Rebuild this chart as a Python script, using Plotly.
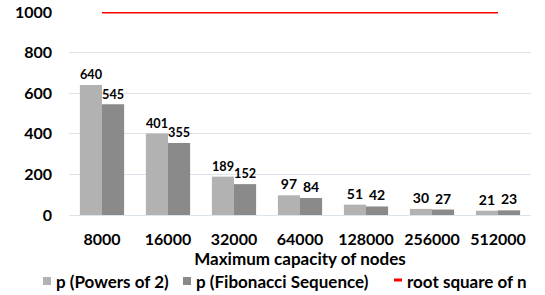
import plotly.graph_objects as go

categories = ["8000", "16000", "32000", "64000", "128000", "256000", "512000"]
powers_of_2 = [640, 401, 189, 97, 51, 30, 21]
fibonacci = [545, 355, 152, 84, 42, 27, 23]
root_square = [1000, 1000, 1000, 1000, 1000, 1000, 1000]
series_names = ["p (Powers of 2)", "p (Fibonacci Sequence)", "root square of n"]

FONT = "Lato"
LIGHT, DARK, RED = "#b2b2b2", "#8a8a8a", "#ff0000"
W, H = 545, 295
ML, MR, MT, MB = 69, 14, 12, 80
PW, PH = W - ML - MR, H - MT - MB


def px_x(p):  # screen pixel -> paper fraction
    return (p - ML) / PW


def px_y(p):
    return (H - MB - p) / PH


fig = go.Figure()
fig.add_trace(go.Bar(
    x=categories, y=powers_of_2, name=series_names[0],
    marker=dict(color=LIGHT, line=dict(width=0)),
    text=powers_of_2, textposition="outside", cliponaxis=False,
    textfont=dict(family=FONT, size=14, color="#000000", weight="bold"),
))
fig.add_trace(go.Bar(
    x=categories, y=fibonacci, name=series_names[1],
    marker=dict(color=DARK, line=dict(width=0)),
    text=fibonacci, textposition="outside", cliponaxis=False,
    textfont=dict(family=FONT, size=14, color="#000000", weight="bold"),
))
fig.add_trace(go.Scatter(
    x=categories, y=root_square, name=series_names[2], mode="lines",
    line=dict(color=RED, width=3), cliponaxis=False,
))

# manual legend (small squares / short dash like the reference)
legend_y = 281
items = [(43, 8, LIGHT, "rect"), (183, 8, DARK, "rect"), (394, 8, RED, "line")]
shapes, annotations = [], []
for (x0, w, col, kind), name in zip(items, series_names):
    if kind == "rect":
        shapes.append(dict(type="rect", xref="paper", yref="paper",
                           x0=px_x(x0), x1=px_x(x0 + w),
                           y0=px_y(legend_y + 4), y1=px_y(legend_y - 4),
                           fillcolor=col, line=dict(width=0)))
    else:
        shapes.append(dict(type="line", xref="paper", yref="paper",
                           x0=px_x(x0), x1=px_x(x0 + w),
                           y0=px_y(legend_y - 1), y1=px_y(legend_y - 1),
                           line=dict(color=col, width=3)))
    annotations.append(dict(xref="paper", yref="paper", x=px_x(x0 + w + 3),
                            y=px_y(legend_y), xanchor="left", yanchor="middle",
                            text=name, showarrow=False,
                            font=dict(family=FONT, size=17, color="#000000", weight="bold")))

fig.update_layout(
    width=W, height=H,
    margin=dict(l=ML, r=MR, t=MT, b=MB, autoexpand=False),
    paper_bgcolor="white", plot_bgcolor="white",
    barmode="group", bargap=0.33, bargroupgap=0,
    font=dict(family=FONT, size=14, color="#000000"),
    showlegend=False,
    hovermode=False,
    shapes=shapes, annotations=annotations,
    xaxis=dict(
        title=dict(text="Maximum capacity of nodes", standoff=1,
                   font=dict(family=FONT, size=17, weight="bold")),
        tickfont=dict(family=FONT, size=16, weight="bold"),
        showgrid=False, showline=False, ticks="", ticklabelstandoff=13,
    ),
    yaxis=dict(
        range=[0, 1000], tickvals=[0, 200, 400, 600, 800, 1000],
        tickfont=dict(family=FONT, size=16, weight="bold"),
        ticklabeloverflow="allow",
        showgrid=True, gridcolor="#dde3ea", gridwidth=1,
        zeroline=True, zerolinecolor="#dde3ea", zerolinewidth=1,
        showline=False, ticks="", ticklabelstandoff=16,
    ),
)

fig.write_html("out.html", config={"displayModeBar": False},
               post_script="document.body.style.margin='0';")
